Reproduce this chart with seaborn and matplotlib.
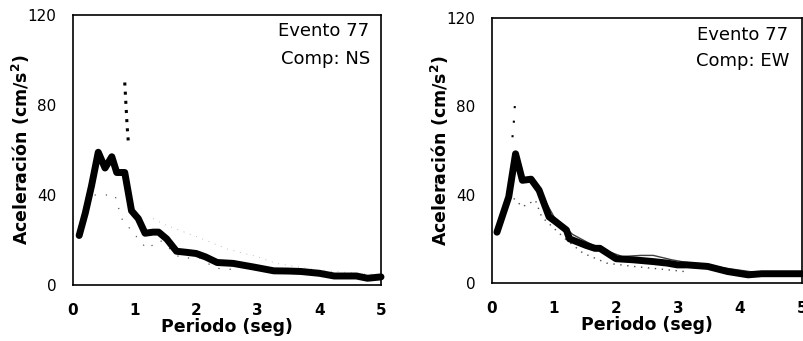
import numpy as np
import pandas as pd
import matplotlib
matplotlib.use("Agg")
import matplotlib.pyplot as plt
import seaborn as sns

# ---- Data ----
# NS component
ns_T = [0.1, 0.2, 0.3, 0.41, 0.52, 0.63, 0.71, 0.84, 0.95, 1.06, 1.17, 1.3, 1.39, 1.52, 1.68,
        1.85, 2.0, 2.15, 2.34, 2.6, 2.93, 3.26, 3.5, 3.7, 4.0, 4.24, 4.6, 4.78, 5.0]
ns_A = [22, 32, 44, 59, 52, 57, 50, 50, 33, 29.5, 23, 23.5, 23.5, 20.5, 15,
        14.5, 14, 12.5, 10, 9.6, 8, 6.3, 6.2, 6, 5.2, 4, 4, 3, 3.6]
ns_spike_T = [0.84, 0.86, 0.88, 0.9]
ns_spike_A = [90, 80, 70, 63]
ns_low_T = [0.35, 0.68, 0.79, 1.03, 1.2, 1.41, 1.74, 2.07, 2.3, 2.7]
ns_low_A = [40, 40, 29.5, 21.5, 16, 20, 12, 12, 7.5, 6.7]
ns_up_T = [1.3, 1.47, 2.1, 2.5, 3.0, 3.3, 4.0, 5.0]
ns_up_A = [29.5, 27, 20.5, 16, 12.5, 9.6, 6.5, 4.5]

# EW component
ew_T = [0.08, 0.27, 0.38, 0.49, 0.63, 0.76, 0.92, 1.03, 1.2, 1.25, 1.52, 1.66, 1.74, 2.0,
        2.28, 2.6, 2.83, 2.99, 3.15, 3.48, 3.8, 4.13, 4.35, 4.73, 5.0]
ew_A = [23, 39, 58.5, 46.5, 47, 42, 30, 27.7, 24, 20, 17, 15.7, 15.7, 11,
        10.5, 9.7, 9, 8.2, 8.2, 7.5, 5.2, 3.7, 4.2, 4.2, 4.2]
ew_thin_T = [0.55, 0.65, 0.8, 1.0, 1.3, 1.7, 2.1, 2.4, 2.6, 2.9, 3.3, 3.7, 4.2, 4.6, 5.0]
ew_thin_A = [47, 46, 40, 30, 22, 16, 12, 12.5, 12.5, 10.5, 8.5, 7, 5, 4.5, 5]
ew_dot_T = [0.27, 0.49, 0.7, 0.8, 1.2, 1.47, 1.85, 2.28, 2.83, 3.1]
ew_dot_A = [40.5, 34.5, 37.5, 30, 19.5, 13.5, 9, 7.5, 6, 5.2]
ew_spike_T = [0.33, 0.35, 0.38]
ew_spike_A = [66, 72, 85.5]

xticks = [0, 1, 2, 3, 4, 5]
yticks = [0, 40, 80, 120]
xlabel = "Periodo (seg)"
ylabel = "Aceleración (cm/s$^\\mathbf{2}$)"

sns.set_theme(style="white")
plt.rcParams['font.family'] = ['DejaVu Sans']
plt.rcParams['mathtext.default'] = 'bf'
for k in ("text.color", "axes.labelcolor", "xtick.color", "ytick.color", "axes.edgecolor"):
    plt.rcParams[k] = "black"

fig = plt.figure(figsize=(8.04, 3.41), dpi=100)
axL = fig.add_axes([73/804, 1-285/341, (381-73)/804, (285-15)/341])
axR = fig.add_axes([492/804, 1-283/341, (802-492)/804, (283-18)/341])


def df(t, a):
    return pd.DataFrame({"T": t, "A": a})


# left panel
sns.lineplot(data=df(ns_up_T, ns_up_A), x="T", y="A", ax=axL, color="0.65", lw=0.6,
             linestyle=(0, (1, 7)))
sns.lineplot(data=df(ns_low_T, ns_low_A), x="T", y="A", ax=axL, color="0.35", lw=0.9,
             linestyle=(0, (1, 8)))
sns.lineplot(data=df(ns_spike_T, ns_spike_A), x="T", y="A", ax=axL, color="black", lw=2.2,
             linestyle=(0, (1, 2)))
sns.lineplot(data=df(ns_T, ns_A), x="T", y="A", ax=axL, color="black", lw=5,
             solid_joinstyle="round", solid_capstyle="round")
axL.text(0.962, 0.975, "Evento 77", transform=axL.transAxes, ha="right", va="top", fontsize=13)
axL.text(0.965, 0.872, "Comp: NS", transform=axL.transAxes, ha="right", va="top", fontsize=13)

# right panel
sns.lineplot(data=df(ew_dot_T, ew_dot_A), x="T", y="A", ax=axR, color="0.3", lw=1.0,
             linestyle=(0, (1, 4)))
sns.lineplot(data=df(ew_spike_T, ew_spike_A), x="T", y="A", ax=axR, color="black", lw=1.5,
             linestyle=(0, (1, 6)))
sns.lineplot(data=df(ew_thin_T, ew_thin_A), x="T", y="A", ax=axR, color="0.25", lw=1.0)
sns.lineplot(data=df(ew_T, ew_A), x="T", y="A", ax=axR, color="black", lw=5,
             solid_joinstyle="round", solid_capstyle="round")
axR.text(0.955, 0.97, "Evento 77", transform=axR.transAxes, ha="right", va="top", fontsize=13)
axR.text(0.958, 0.872, "Comp: EW", transform=axR.transAxes, ha="right", va="top", fontsize=13)

for ax in (axL, axR):
    ax.set_xlim(0, 5.0)
    ax.set_ylim(0, 120)
    ax.set_xticks(xticks)
    ax.set_yticks(yticks)
    ax.set_xticklabels([str(v) for v in xticks], fontweight="bold", fontsize=11)
    ax.set_yticklabels([str(v) for v in yticks], fontsize=11)
    ax.tick_params(axis="x", length=0, pad=13)
    ax.tick_params(axis="y", length=2, direction="out", pad=10)
    ax.set_xlabel(xlabel, fontweight="bold", fontsize=12.5, labelpad=0)
    ax.set_ylabel(ylabel, fontweight="bold", fontsize=12.5, labelpad=-3)
    for s in ax.spines.values():
        s.set_visible(True)
        s.set_color("black")
        s.set_linewidth(1.2)
    ax.set_facecolor("white")
    ax.grid(False)
    for ln in ax.lines:
        ln.set_clip_on(False)

fig.savefig("out.png", dpi=100, facecolor="white")
